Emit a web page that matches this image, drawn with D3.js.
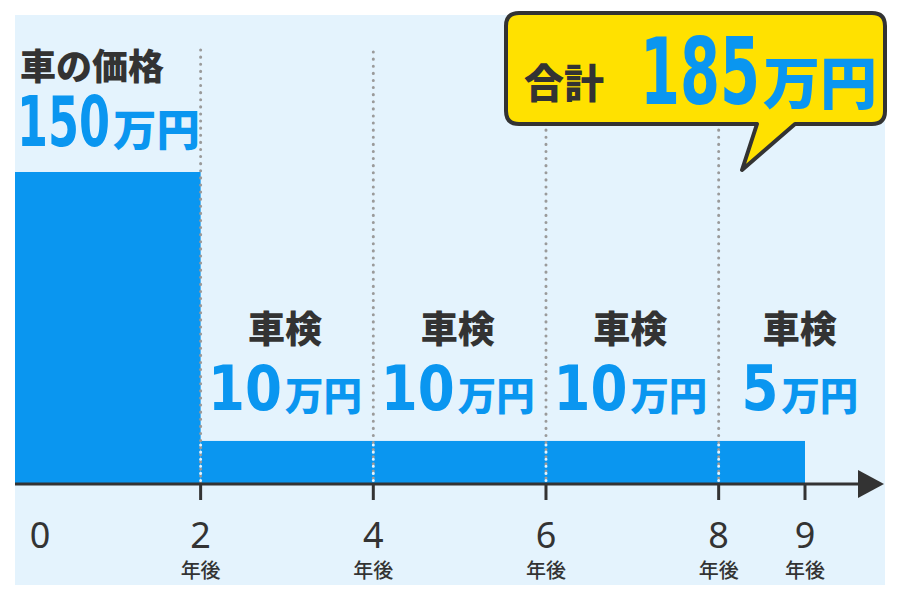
<!DOCTYPE html>
<html><head><meta charset="utf-8">
<script src="https://cdn.jsdelivr.net/npm/d3@7"></script>
<style>body{margin:0;background:#fff}</style>
</head><body>
<script>
// data
const years = [2, 4, 6, 8, 9];
const segments = [[2, 4], [4, 6], [6, 8], [8, 9]];
const inspectionCosts = [10, 10, 10, 5];
const carPrice = 150;
const inspectionBarLevel = 20.7; // drawn height of the inspection strip (not to scale)
const total = 185;

const W = 900, H = 600;
const svg = d3.select("body").append("svg").attr("width", W).attr("height", H);
const jp = "'Noto Sans CJK JP', sans-serif";
const num = "'DejaVu Sans', sans-serif";
const blue = "#0a96f0";

const x = d3.scaleLinear().domain([-0.15, 9]).range([15, 805]);
const y = d3.scaleLinear().domain([0, carPrice]).range([484, 172]);

svg.append("rect").attr("x", 15).attr("y", 15).attr("width", 870).attr("height", 570).attr("fill", "#e4f3fd");

// bars
svg.append("rect").attr("x", x(-0.15)).attr("y", y(carPrice))
    .attr("width", x(2) - x(-0.15)).attr("height", y(0) - y(carPrice)).attr("fill", blue);
svg.append("rect").attr("x", x(2)).attr("y", y(inspectionBarLevel))
    .attr("width", x(9) - x(2)).attr("height", y(0) - y(inspectionBarLevel)).attr("fill", blue);

// dotted guides
[2, 4, 6, 8].forEach(v => {
    svg.append("line").attr("x1", x(v)).attr("x2", x(v)).attr("y1", v === 2 ? 50 : 52).attr("y2", 484)
        .attr("stroke", "#9a9a9a").attr("stroke-width", 3)
        .attr("stroke-dasharray", "0.1 7").attr("stroke-linecap", "round");
    svg.append("line").attr("x1", x(v)).attr("x2", x(v)).attr("y1", y(inspectionBarLevel) + 4).attr("y2", 484)
        .attr("stroke", "#e4f3fd").attr("stroke-width", 3)
        .attr("stroke-dasharray", "0.1 7").attr("stroke-linecap", "round");
});

// axis
svg.append("line").attr("x1", 15).attr("x2", 862).attr("y1", 484).attr("y2", 484).attr("stroke", "#333").attr("stroke-width", 3);
svg.append("path").attr("d", "M858,470 L884,484 L858,498 Z").attr("fill", "#333");
years.forEach(v => {
    svg.append("line").attr("x1", x(v)).attr("x2", x(v)).attr("y1", 484).attr("y2", 500).attr("stroke", "#333").attr("stroke-width", 3);
    svg.append("text").attr("x", x(v)).attr("y", 548).attr("text-anchor", "middle")
        .attr("font-family", "'Noto Sans', sans-serif").attr("font-size", 36).attr("fill", "#333").text(v);
    svg.append("text").attr("x", x(v)).attr("y", 578).attr("text-anchor", "middle")
        .attr("font-family", jp).attr("font-weight", 500).attr("font-size", 20).attr("fill", "#333").text("年後");
});
svg.append("text").attr("x", 40).attr("y", 548).attr("text-anchor", "middle")
    .attr("font-family", "'Noto Sans', sans-serif").attr("font-size", 36).attr("fill", "#333").text(0);

// condensed number + 万円, starting at left
function amount(left, base, val, size, perDigit) {
    const nw = String(val).length * perDigit;
    svg.append("text").attr("x", left).attr("y", base).attr("fill", blue)
        .attr("font-family", num).attr("font-weight", 700).attr("font-size", size)
        .attr("textLength", nw).attr("lengthAdjust", "spacingAndGlyphs").text(val);
    const us = size * 0.62;
    svg.append("text").attr("x", left + nw + 3).attr("y", base).attr("fill", blue)
        .attr("font-family", jp).attr("font-weight", 900).attr("font-size", us).text("万円");
    return nw + 3 + us * 2;
}

// car price label
svg.append("text").attr("x", 20).attr("y", 80).attr("font-family", jp).attr("font-weight", 900)
    .attr("font-size", 36).attr("fill", "#333").text("車の価格");
amount(17, 146, carPrice, 70, 31);

// inspection labels
segments.forEach((s, i) => {
    const cx = (x(s[0]) + x(s[1])) / 2 + (i === 3 ? 38 : -2);
    svg.append("text").attr("x", cx).attr("y", 343).attr("text-anchor", "middle")
        .attr("font-family", jp).attr("font-weight", 900).attr("font-size", 37).attr("fill", "#333").text("車検");
    const w = String(inspectionCosts[i]).length * 37 + 3 + 62 * 0.62 * 2;
    amount(cx - w / 2, 410, inspectionCosts[i], 62, 37);
});

// callout
svg.append("path")
    .attr("d", "M519,13 H872 Q885,13 885,26 V111 Q885,124 872,124 H795 L742,170 L757,124 H519 Q506,124 506,111 V26 Q506,13 519,13 Z")
    .attr("fill", "#ffe100").attr("stroke", "#333").attr("stroke-width", 4).attr("stroke-linejoin", "round");
svg.append("text").attr("x", 524).attr("y", 98).attr("font-family", jp).attr("font-weight", 900)
    .attr("font-size", 40).attr("fill", "#333").text("合計");
amount(640, 104, total, 92, 40);
</script>
</body></html>
